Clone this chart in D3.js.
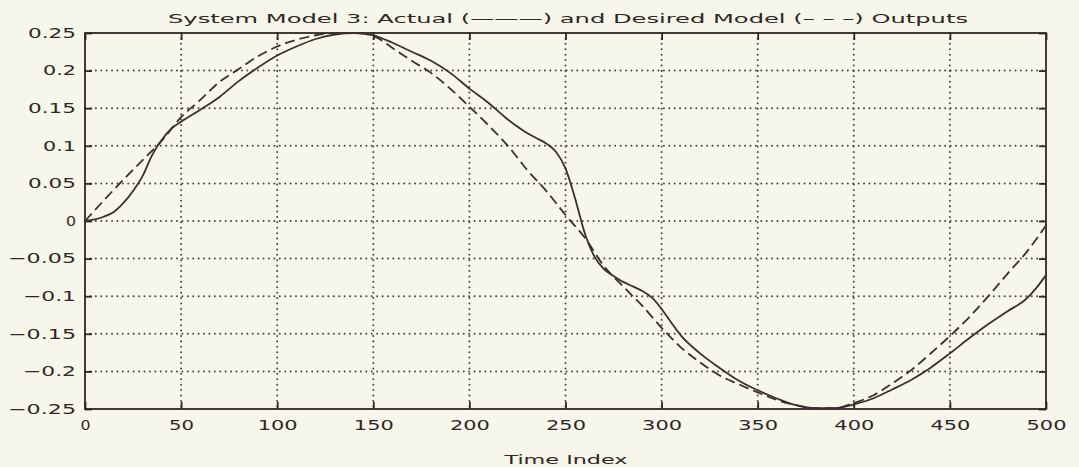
<!DOCTYPE html>
<html>
<head>
<meta charset="utf-8">
<script src="https://cdn.jsdelivr.net/npm/d3@7"></script>
<style>
  body { margin: 0; background: #f7f6eb; }
  svg { display: block; }
  text { font-family: "DejaVu Sans", sans-serif; fill: #2f2725; }
</style>
</head>
<body>
<div id="chart"></div>
<script>
const titleText = "System Model 3: Actual (\u2014\u2014\u2014) and Desired Model (\u2013 \u2013 \u2013) Outputs";
const xLabel = "Time Index";
const xTicks = [0, 50, 100, 150, 200, 250, 300, 350, 400, 450, 500];
const yTicks = [0.25, 0.2, 0.15, 0.1, 0.05, 0, -0.05, -0.1, -0.15, -0.2, -0.25];
const yTickLabels = ["0.25", "0.2", "0.15", "0.1", "0.05", "0", "\u22120.05", "\u22120.1", "\u22120.15", "\u22120.2", "\u22120.25"];

// desired model output (dashed)
const desiredT = [0, 10, 20, 30, 40, 50, 60, 70, 80, 90, 100, 110, 120, 130, 140, 150, 160, 170, 180, 190, 200,
  210, 220, 230, 240, 250, 260, 270, 280, 290, 300, 310, 320, 330, 340, 350, 360, 370, 380, 390, 400,
  410, 420, 430, 440, 450, 460, 470, 480, 490, 500];
const desiredV = [0, 0.028, 0.055, 0.081, 0.107, 0.138, 0.161, 0.185, 0.202, 0.219, 0.232, 0.241, 0.247, 0.25, 0.25, 0.246, 0.23, 0.213, 0.197, 0.176, 0.152,
  0.127, 0.1, 0.068, 0.04, 0.008, -0.022, -0.06, -0.087, -0.113, -0.142, -0.168, -0.188, -0.205, -0.217, -0.228, -0.238, -0.245, -0.249, -0.249, -0.242,
  -0.232, -0.216, -0.198, -0.176, -0.153, -0.128, -0.1, -0.07, -0.041, -0.006];

// actual system output (solid)
const actualT = [0, 5, 10, 15, 20, 25, 30, 35, 40, 45, 50, 60, 70, 80, 90, 100, 110, 120, 130, 140, 150, 160, 170, 180, 190, 200,
  210, 220, 230, 235, 240, 245, 250, 255, 260, 265, 270, 275, 280, 285, 290, 295, 300, 305, 310, 320, 330, 340, 350, 360, 370, 380, 390, 400,
  410, 420, 430, 440, 450, 460, 470, 480, 490, 495, 500];
const actualV = [0, 0.002, 0.006, 0.012, 0.024, 0.04, 0.06, 0.088, 0.108, 0.123, 0.132, 0.148, 0.165, 0.186, 0.204, 0.22, 0.232, 0.242, 0.248, 0.25, 0.247, 0.237, 0.225, 0.213, 0.197, 0.176,
  0.157, 0.135, 0.117, 0.11, 0.103, 0.092, 0.07, 0.03, -0.016, -0.047, -0.064, -0.073, -0.081, -0.087, -0.093, -0.102, -0.117, -0.135, -0.152, -0.176, -0.195, -0.212, -0.225, -0.236, -0.245, -0.249, -0.249, -0.244,
  -0.236, -0.224, -0.211, -0.195, -0.176, -0.156, -0.137, -0.12, -0.103, -0.089, -0.072];

const W = 1079, H = 467;
const margin = {top: 33, right: 33, bottom: 58, left: 85};
const ink = "#2f2725";

const svg = d3.select("#chart").append("svg")
  .attr("width", W).attr("height", H);
svg.append("rect").attr("width", W).attr("height", H).attr("fill", "#f7f6eb");

const x = d3.scaleLinear().domain([0, 500]).range([margin.left, W - margin.right]);
const y = d3.scaleLinear().domain([-0.25, 0.25]).range([H - margin.bottom, margin.top]);

// width of a label in the plotter font (digits wide, period narrow)
function labelWidth(s) {
  let w = 0;
  for (const c of s) w += c === "." ? 8 : (c === "\u2212" ? 20 : 15);
  return w - 5;
}

// dotted grid
const grid = svg.append("g")
  .attr("stroke", "#4d4543").attr("stroke-width", 2)
  .attr("stroke-linecap", "round").attr("stroke-dasharray", "0.01,5.4");
grid.selectAll(".gx").data(xTicks.slice(1, -1)).join("line")
  .attr("x1", d => x(d)).attr("x2", d => x(d))
  .attr("y1", y(0.25)).attr("y2", y(-0.25));
grid.selectAll(".gy").data(yTicks.slice(1, -1)).join("line")
  .attr("x1", x(0)).attr("x2", x(500))
  .attr("y1", d => y(d)).attr("y2", d => y(d));

// axes with inward ticks
svg.append("g").attr("transform", `translate(0,${y(-0.25)})`)
  .call(d3.axisBottom(x).tickValues(xTicks).tickSize(-7).tickPadding(11).tickFormat(d3.format("d")));
svg.append("g").attr("transform", `translate(0,${y(0.25)})`)
  .call(d3.axisTop(x).tickValues(xTicks).tickSize(-7).tickFormat(""));
svg.append("g").attr("transform", `translate(${x(0)},0)`)
  .call(d3.axisLeft(y).tickValues(yTicks).tickSize(-7).tickPadding(9).tickFormat((d, i) => yTickLabels[i]));
svg.append("g").attr("transform", `translate(${x(500)},0)`)
  .call(d3.axisRight(y).tickValues(yTicks).tickSize(-7).tickFormat(""));

svg.selectAll(".domain").remove();
svg.selectAll(".tick line").attr("stroke", ink).attr("stroke-width", 1.8);
svg.selectAll(".tick text")
  .attr("fill", ink)
  .style("font-family", "'DejaVu Sans', sans-serif")
  .style("font-size", "13.5px")
  .attr("textLength", function () { return labelWidth(this.textContent); })
  .attr("lengthAdjust", "spacingAndGlyphs");

// frame
svg.append("rect")
  .attr("x", x(0)).attr("y", y(0.25))
  .attr("width", x(500) - x(0)).attr("height", y(-0.25) - y(0.25))
  .attr("fill", "none").attr("stroke", ink).attr("stroke-width", 1.8);

// curves
const line = d3.line().curve(d3.curveMonotoneX);
svg.append("path")
  .datum(desiredT.map((t, i) => [x(t), y(desiredV[i])]))
  .attr("d", line)
  .attr("fill", "none").attr("stroke", "#3a302d").attr("stroke-width", 1.8)
  .attr("stroke-dasharray", "10,5");
svg.append("path")
  .datum(actualT.map((t, i) => [x(t), y(actualV[i])]))
  .attr("d", line)
  .attr("fill", "none").attr("stroke", "#3a302d").attr("stroke-width", 1.8);

// title and axis label
svg.append("text")
  .attr("x", 168).attr("y", 23)
  .style("font-size", "12.5px")
  .attr("textLength", 800).attr("lengthAdjust", "spacingAndGlyphs")
  .text(titleText);
svg.append("text")
  .attr("x", (x(0) + x(500)) / 2 - 61).attr("y", 464)
  .style("font-size", "12.5px")
  .attr("textLength", 123).attr("lengthAdjust", "spacingAndGlyphs")
  .text(xLabel);
</script>
</body>
</html>
